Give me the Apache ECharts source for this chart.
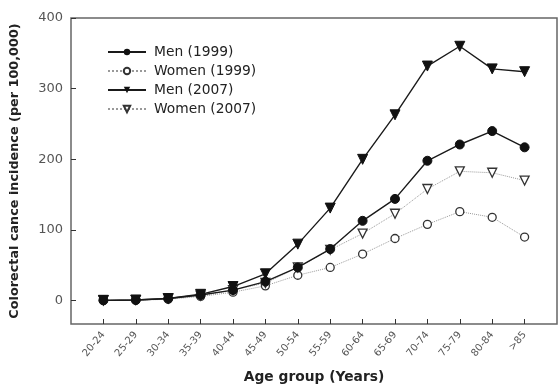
<!DOCTYPE html>
<html><head><meta charset="utf-8">
<script src="https://cdn.jsdelivr.net/npm/echarts@6/dist/echarts.min.js"></script>
<style>html,body{margin:0;padding:0;background:#fff}#c{width:558px;height:389px}</style>
</head><body><div id="c"></div>
<script>
var categories = ['20-24','25-29','30-34','35-39','40-44','45-49','50-54','55-59','60-64','65-69','70-74','75-79','80-84','>85'];
var men1999   = [0.5, 1, 3, 8, 15, 27, 47, 73, 113, 144, 198, 221, 240, 217];
var women1999 = [0.3, 0.5, 2, 6, 12, 21, 36, 47, 66, 88, 108, 126, 118, 90];
var men2007   = [0.5, 1, 3, 9, 20, 38, 80, 131, 200, 263, 332, 360, 328, 324];
var women2007 = [0.3, 0.8, 3, 7, 15, 25, 47, 72, 95, 123, 158, 183, 181, 170];
var yTicks = [0, 100, 200, 300, 400];

function pts(arr){ return arr.map(function(v,i){ return [i, v]; }); }
var idx = categories.map(function(c,i){ return i; });
var FONT = 'DejaVu Sans, sans-serif';

var chart = echarts.init(document.getElementById('c'));
var solid = {color:'#1a1a1a', width:1.4};
var dotted = {color:'#999', width:1, type:'dotted'};
chart.setOption({
  animation:false,
  textStyle:{fontFamily:FONT},
  grid:{left:71, top:18, right:1, bottom:58, show:true, borderColor:'#666', borderWidth:1.5, backgroundColor:'transparent'},
  legend:{
    orient:'vertical', left:107, top:45, padding:0, itemWidth:38, itemHeight:8, itemGap:5,
    textStyle:{fontSize:13.8, color:'#222', fontFamily:FONT, padding:[0,0,0,3]},
    data:['Men (1999)','Women (1999)','Men (2007)','Women (2007)']
  },
  xAxis:{
    type:'value', min:-1, max:14,
    axisLine:{show:false, onZero:false}, splitLine:{show:false},
    axisTick:{inside:true, length:5, lineStyle:{color:'#333'}, customValues:idx},
    axisLabel:{customValues:idx, rotate:50, fontSize:10, color:'#555', margin:9, fontFamily:FONT,
      formatter:function(v){ return categories[Math.round(v)]; }},
    name:'Age group (Years)', nameLocation:'middle', nameGap:46,
    nameTextStyle:{fontSize:13.8, fontWeight:'bold', color:'#222', fontFamily:FONT}
  },
  yAxis:{
    type:'value', min:-33, max:400,
    axisLine:{show:false, onZero:false}, splitLine:{show:false},
    axisTick:{inside:true, length:5, lineStyle:{color:'#333'}, customValues:yTicks},
    axisLabel:{customValues:yTicks, fontSize:13, color:'#555', margin:8, fontFamily:FONT},
    name:'Colorectal cance incidence (per 100,000)', nameLocation:'middle', nameGap:50,
    nameTextStyle:{fontSize:12.8, color:'#222', fontWeight:'bold', fontFamily:FONT}
  },
  series:[
    {name:'Men (1999)', type:'line', data:pts(men1999), symbol:'circle', symbolSize:9,
      lineStyle:solid, itemStyle:{color:'#111', borderColor:'#111'}, z:4},
    {name:'Women (1999)', type:'line', data:pts(women1999), symbol:'circle', symbolSize:8,
      lineStyle:dotted, itemStyle:{color:'#fff', borderColor:'#333', borderWidth:1.3}, z:3},
    {name:'Men (2007)', type:'line', data:pts(men2007), symbol:'triangle', symbolRotate:180, symbolSize:10,
      lineStyle:solid, itemStyle:{color:'#111', borderColor:'#111'}, z:4},
    {name:'Women (2007)', type:'line', data:pts(women2007), symbol:'triangle', symbolRotate:180, symbolSize:9,
      lineStyle:dotted, itemStyle:{color:'#fff', borderColor:'#333', borderWidth:1.3}, z:3}
  ]
});
</script></body></html>
